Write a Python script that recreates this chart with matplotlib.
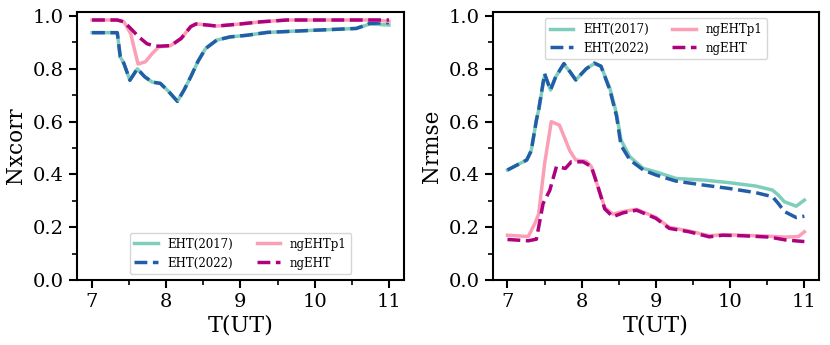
import matplotlib.pyplot as plt
import numpy as np

plt.rcParams['font.family'] = 'DejaVu Serif'

# left panel: Nxcorr
t_eht_l = [7.0, 7.34, 7.38, 7.43, 7.51, 7.61, 7.71, 7.81, 7.92, 8.03, 8.15, 8.24, 8.33, 8.43, 8.53, 8.68, 8.86, 9.08, 9.36, 9.98, 10.56, 10.66, 10.74, 11.0]
xc_eht17 = [0.937, 0.937, 0.846, 0.82, 0.757, 0.80, 0.77, 0.75, 0.745, 0.715, 0.677, 0.72, 0.77, 0.83, 0.877, 0.909, 0.921, 0.927, 0.938, 0.946, 0.953, 0.962, 0.97, 0.966]
xc_eht22 = [0.937, 0.937, 0.846, 0.82, 0.757, 0.80, 0.77, 0.75, 0.745, 0.715, 0.677, 0.72, 0.77, 0.83, 0.877, 0.909, 0.921, 0.927, 0.938, 0.946, 0.953, 0.963, 0.972, 0.975]

t_ng_l = [7.0, 7.34, 7.43, 7.52, 7.63, 7.74, 7.85, 7.92, 8.06, 8.2, 8.33, 8.4, 8.55, 8.68, 9.0, 9.27, 9.63, 11.0]
xc_ngeht = [0.985, 0.985, 0.978, 0.953, 0.921, 0.895, 0.886, 0.886, 0.888, 0.915, 0.96, 0.97, 0.966, 0.962, 0.97, 0.978, 0.985, 0.985]
t_p1_l = [7.0, 7.34, 7.43, 7.52, 7.62, 7.72, 7.81, 7.9, 8.06, 8.2, 8.33, 8.4, 8.55, 8.68, 9.0, 9.27, 9.63, 10.8, 11.0]
xc_ngehtp1 = [0.985, 0.985, 0.978, 0.934, 0.818, 0.827, 0.858, 0.883, 0.888, 0.915, 0.96, 0.97, 0.966, 0.962, 0.97, 0.978, 0.985, 0.985, 0.98]

# right panel: Nrmse
t_eht_r = [7.0, 7.26, 7.32, 7.39, 7.42, 7.5, 7.58, 7.65, 7.76, 7.84, 7.92, 8.06, 8.17, 8.26, 8.38, 8.47, 8.53, 8.65, 8.83, 9.0, 9.27, 9.64, 9.99, 10.35, 10.57, 10.65, 10.73, 10.89, 11.0]
rm_eht17 = [0.417, 0.455, 0.49, 0.606, 0.644, 0.776, 0.72, 0.77, 0.817, 0.79, 0.758, 0.80, 0.82, 0.81, 0.726, 0.63, 0.53, 0.467, 0.423, 0.41, 0.385, 0.379, 0.369, 0.356, 0.341, 0.322, 0.297, 0.28, 0.303]
rm_eht22 = [0.417, 0.455, 0.49, 0.606, 0.644, 0.782, 0.72, 0.77, 0.82, 0.79, 0.758, 0.80, 0.822, 0.81, 0.72, 0.62, 0.51, 0.455, 0.417, 0.398, 0.375, 0.36, 0.347, 0.331, 0.316, 0.29, 0.26, 0.237, 0.242]

t_ng_r = [7.0, 7.28, 7.39, 7.48, 7.57, 7.66, 7.78, 7.86, 8.02, 8.13, 8.22, 8.31, 8.42, 8.56, 8.74, 9.0, 9.18, 9.45, 9.72, 9.9, 10.17, 10.53, 10.75, 11.0]
rm_ngeht = [0.154, 0.149, 0.155, 0.29, 0.34, 0.43, 0.423, 0.448, 0.448, 0.43, 0.353, 0.27, 0.24, 0.255, 0.265, 0.234, 0.196, 0.183, 0.164, 0.17, 0.168, 0.163, 0.152, 0.146]
t_p1_r = [7.0, 7.28, 7.37, 7.42, 7.5, 7.59, 7.7, 7.84, 7.92, 8.06, 8.13, 8.22, 8.31, 8.42, 8.56, 8.74, 9.0, 9.18, 9.45, 9.72, 9.9, 10.17, 10.53, 10.75, 10.92, 11.0]
rm_ngehtp1 = [0.17, 0.165, 0.215, 0.25, 0.44, 0.6, 0.587, 0.49, 0.455, 0.45, 0.43, 0.353, 0.275, 0.25, 0.26, 0.268, 0.238, 0.2, 0.186, 0.168, 0.172, 0.17, 0.166, 0.163, 0.165, 0.183]

c17 = '#7fcdbb'
c22 = '#225ea8'
cp1 = '#fa9fb5'
cng = '#ae017e'

fig, axs = plt.subplots(1, 2, figsize=(8.3, 3.45), dpi=100)
fig.subplots_adjust(left=0.093, right=0.987, bottom=0.188, top=0.965, wspace=0.272)

ax = axs[0]
ax.plot(t_eht_l, xc_eht17, color=c17, lw=2.5, label='EHT(2017)')
ax.plot(t_eht_l, xc_eht22, color=c22, lw=2.5, ls='--', label='EHT(2022)')
ax.plot(t_p1_l, xc_ngehtp1, color=cp1, lw=2.5, label='ngEHTp1')
ax.plot(t_ng_l, xc_ngeht, color=cng, lw=2.5, ls='--', label='ngEHT')
ax.set_ylabel('Nxcorr', fontsize=15.5)
ax.legend(loc='lower center', ncol=2, fontsize=8.5)

ax = axs[1]
ax.plot(t_eht_r, rm_eht17, color=c17, lw=2.5, label='EHT(2017)')
ax.plot(t_eht_r, rm_eht22, color=c22, lw=2.5, ls='--', label='EHT(2022)')
ax.plot(t_p1_r, rm_ngehtp1, color=cp1, lw=2.5, label='ngEHTp1')
ax.plot(t_ng_r, rm_ngeht, color=cng, lw=2.5, ls='--', label='ngEHT')
ax.set_ylabel('Nrmse', fontsize=15.5)
ax.legend(loc='upper center', ncol=2, fontsize=8.5)

for ax in axs:
    ax.set_ylim(0, 1.015)
    ax.set_xticks([7, 8, 9, 10, 11])
    ax.set_xticks(np.arange(7.5, 11, 1.0), minor=True)
    ax.set_yticks(np.arange(0, 1.01, 0.2))
    ax.set_yticks(np.arange(0.1, 1.0, 0.2), minor=True)
    ax.tick_params(which='major', length=6, width=1.5, labelsize=14)
    ax.tick_params(which='minor', length=3.5, width=1.2)
    for s in ax.spines.values():
        s.set_linewidth(1.5)
    ax.set_xlabel('T(UT)', fontsize=16, labelpad=2)

fig.savefig('out.png')
